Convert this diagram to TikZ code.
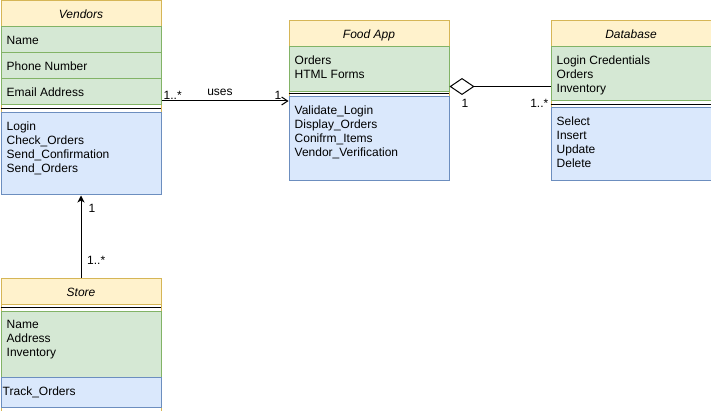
\documentclass[tikz,border=0pt]{standalone}
\usepackage{fontspec}
\setmainfont{Liberation Sans}
\usetikzlibrary{arrows.meta}

\definecolor{headfill}{HTML}{FFF2CC}
\definecolor{headline}{HTML}{D6B656}
\definecolor{attrfill}{HTML}{D5E8D4}
\definecolor{attrline}{HTML}{82B366}
\definecolor{operfill}{HTML}{DAE8FC}
\definecolor{operline}{HTML}{6C8EBF}
\newcommand{\classfont}{\fontsize{12}{14}\selectfont}

\tikzset{
    classbox/.style={draw=headline, fill=white, line width=1pt, anchor=north west,
        minimum width=160pt, inner sep=0pt},
    headbox/.style={classbox, fill=headfill, minimum height=26pt,
        font=\classfont\itshape, text height=10pt, text depth=0pt},
    attrbox/.style={classbox, draw=attrline, fill=attrfill},
    operbox/.style={classbox, draw=operline, fill=operfill},
    entry/.style={anchor=base west, inner sep=0pt, font=\classfont},
    mult/.style={inner sep=0pt, font=\classfont},
    sepline/.style={line width=1pt},
    usesline/.style={line width=1pt, -{Straight Barb[length=6pt,width=8pt]}},
    aggrline/.style={line width=1pt, {Diamond[open,length=25pt,width=17pt]}-},
    ownline/.style={line width=1pt, -{Stealth[length=7pt,width=7pt,inset=2pt]}}
}

\begin{document}
\begin{tikzpicture}[x=1pt, y=-1pt]
    \useasboundingbox (0,0) rectangle (711,411);

    % Vendors
    \node[classbox, minimum height=194pt] (vend) at (0.5,0.5) {};
    \node[headbox] (vendHead) at (0.5,0.5) {Vendors};
    \foreach \t [count=\i from 0] in {Name, Phone Number, Email Address} {
        \node[attrbox, minimum height=26pt] (vendAttr\i) at (0.5,26.5+26*\i) {};
        \node[entry] (vendAttrText\i) at (6.5,44.5+26*\i) {\t};
    }
    \draw[sepline] (0.5,108.5) -- (160.5,108.5);
    \node[operbox, minimum height=82pt] (vendOper) at (0.5,112.5) {};
    \foreach \t [count=\i from 0] in {Login, Check\_Orders, Send\_Confirmation, Send\_Orders}
        \node[entry] (vendOp\i) at (6.5,130.5+14*\i) {\t};

    % Food App
    \node[classbox, minimum height=160pt] (food) at (288.5,20.5) {};
    \node[headbox] (foodHead) at (288.5,20.5) {Food App};
    \node[attrbox, minimum height=45pt] (foodAttr) at (288.5,46.5) {};
    \foreach \t [count=\i from 0] in {Orders, HTML Forms}
        \node[entry] (foodAttr\i) at (294.5,64.5+14*\i) {\t};
    \draw[sepline] (288.5,94) -- (448.5,94);
    \node[operbox, minimum height=84pt] (foodOper) at (288.5,96.5) {};
    \foreach \t [count=\i from 0] in {Validate\_Login, Display\_Orders, Conifrm\_Items, Vendor\_Verification}
        \node[entry] (foodOp\i) at (294.5,115+14*\i) {\t};

    % Database
    \node[classbox, minimum height=160pt] (db) at (550.5,20.5) {};
    \node[headbox] (dbHead) at (550.5,20.5) {Database};
    \node[attrbox, minimum height=54pt] (dbAttr) at (550.5,46.5) {};
    \foreach \t [count=\i from 0] in {Login Credentials, Orders, Inventory}
        \node[entry] (dbAttr\i) at (556.5,64.5+14*\i) {\t};
    \draw[sepline] (550.5,104.5) -- (710.5,104.5);
    \node[operbox, minimum height=73pt] (dbOper) at (550.5,107.5) {};
    \foreach \t [count=\i from 0] in {Select, Insert, Update, Delete}
        \node[entry] (dbOp\i) at (556.5,126+14*\i) {\t};

    % Store
    \node[classbox, minimum height=133pt] (store) at (0.5,277.5) {};
    \node[headbox] (storeHead) at (0.5,277.5) {Store};
    \draw[sepline] (0.5,307.5) -- (160.5,307.5);
    \node[attrbox, minimum height=66pt] (storeAttr) at (0.5,310.5) {};
    \foreach \t [count=\i from 0] in {Name, Address, Inventory}
        \node[entry] (storeAttr\i) at (6.5,328.5+14*\i) {\t};
    \node[operbox, minimum height=30pt] (storeOper) at (0.5,376.5) {};
    \node[entry] (storeOp0) at (2.5,395) {Track\_Orders};

    % connectors
    \draw[usesline] (vend.east |- food.west) -- node[mult, pos=.46, anchor=base, yshift=5pt] (usesLabel) {uses} (food.west);
    \node[mult, anchor=base west] (usesFrom) at ([xshift=2pt,yshift=1pt]vend.east |- food.west) {1..*};
    \node[mult, anchor=base east] (usesTo) at ([xshift=-7pt,yshift=1pt]food.west) {1};

    \coordinate (aggrStart) at ([yshift=14.5pt]food.east);
    \draw[aggrline] (aggrStart) -- (aggrStart -| db.west);
    \node[mult, anchor=base west] (aggrFrom) at ([xshift=12pt,yshift=-21pt]aggrStart) {1};
    \node[mult, anchor=base east] (aggrTo) at ([xshift=-2pt,yshift=-21pt]aggrStart -| db.west) {1..*};

    \draw[ownline] (store.north) -- (vend.south);
    \node[mult, anchor=base west] (ownTo) at ([xshift=7.5pt,yshift=-17pt]vend.south) {1};
    \node[mult, anchor=base west] (ownFrom) at ([xshift=6pt,yshift=13pt]store.north) {1..*};
\end{tikzpicture}
\end{document}
